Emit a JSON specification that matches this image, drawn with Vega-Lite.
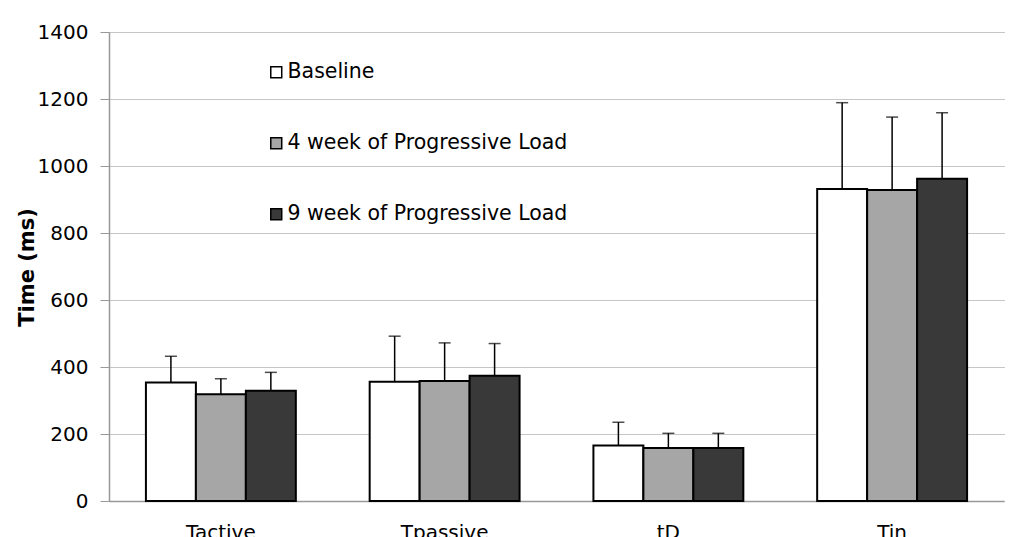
{
  "$schema": "https://vega.github.io/schema/vega-lite/v6.json",
  "width": 895,
  "height": 469,
  "autosize": {"type": "none"},
  "padding": {"left": 109, "top": 32, "right": 22, "bottom": 36},
  "background": "white",
  "config": {
    "font": "DejaVu Sans",
    "view": {"stroke": null},
    "axis": {"labelColor": "#000", "titleColor": "#000", "domainColor": "#999", "tickColor": "#999"}
  },
  "data": {"values": [
    {"measure": "Tactive", "group": "Baseline", "value": 354, "upper": 432},
    {"measure": "Tactive", "group": "4 week of Progressive Load", "value": 319, "upper": 365},
    {"measure": "Tactive", "group": "9 week of Progressive Load", "value": 329, "upper": 384},
    {"measure": "Tpassive", "group": "Baseline", "value": 356, "upper": 492},
    {"measure": "Tpassive", "group": "4 week of Progressive Load", "value": 358, "upper": 472},
    {"measure": "Tpassive", "group": "9 week of Progressive Load", "value": 374, "upper": 470},
    {"measure": "tD", "group": "Baseline", "value": 166, "upper": 235},
    {"measure": "tD", "group": "4 week of Progressive Load", "value": 158, "upper": 202},
    {"measure": "tD", "group": "9 week of Progressive Load", "value": 158, "upper": 202},
    {"measure": "Tin", "group": "Baseline", "value": 931, "upper": 1189},
    {"measure": "Tin", "group": "4 week of Progressive Load", "value": 928, "upper": 1146},
    {"measure": "Tin", "group": "9 week of Progressive Load", "value": 962, "upper": 1159}
  ]},
  "encoding": {
    "x": {
      "field": "measure", "type": "nominal", "sort": ["Tactive", "Tpassive", "tD", "Tin"],
      "scale": {"paddingInner": 0.33, "paddingOuter": 0.165},
      "axis": {"title": null, "labelAngle": 0, "ticks": false, "labelFontSize": 20, "labelPadding": 21, "labelBaseline": "top", "domainColor": "#999", "domainWidth": 1.5}
    },
    "xOffset": {"field": "group", "type": "nominal", "sort": ["Baseline", "4 week of Progressive Load", "9 week of Progressive Load"], "scale": {"paddingInner": 0, "paddingOuter": 0}}
  },
  "layer": [
    {
      "mark": {"type": "bar", "stroke": "#000", "strokeWidth": 2},
      "encoding": {
        "y": {
          "field": "value", "type": "quantitative",
          "scale": {"domain": [0, 1400], "nice": false},
          "axis": {
            "title": "Time (ms)", "titleFontSize": 21, "titleFontWeight": "bold",
            "titleX": -72, "titleY": 235, "titleAngle": -90, "titleBaseline": "bottom", "titleAlign": "center",
            "values": [0, 200, 400, 600, 800, 1000, 1200, 1400], "format": "d",
            "labelFontSize": 20, "labelPadding": 12, "tickSize": 9,
            "grid": true, "gridColor": "#8c8c8c", "gridDash": [1, 1], "gridWidth": 1,
            "domainColor": "#999", "domainWidth": 1.5
          }
        },
        "fill": {
          "field": "group", "type": "nominal",
          "sort": ["Baseline", "4 week of Progressive Load", "9 week of Progressive Load"],
          "scale": {"range": ["#ffffff", "#a6a6a6", "#393939"]},
          "legend": {
            "title": null, "orient": "none", "legendX": 157, "legendY": 30,
            "symbolType": "square", "symbolSize": 120, "symbolStrokeColor": "#000", "symbolStrokeWidth": 1.5,
            "labelFontSize": 20.5, "labelOffset": 1, "labelLimit": 500, "rowPadding": 50, "labelColor": "#000"
          }
        }
      }
    },
    {
      "mark": {"type": "rule", "color": "#000", "strokeWidth": 1.5},
      "encoding": {
        "y": {"field": "value", "type": "quantitative"},
        "y2": {"field": "upper"}
      }
    },
    {
      "mark": {"type": "tick", "color": "#000", "thickness": 1.5, "size": 12, "orient": "horizontal"},
      "encoding": {
        "y": {"field": "upper", "type": "quantitative"}
      }
    }
  ]
}
